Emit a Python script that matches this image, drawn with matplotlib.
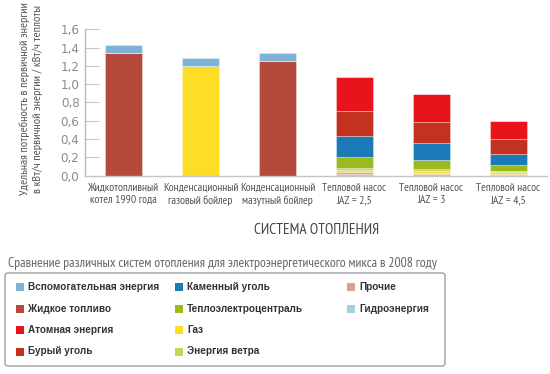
import matplotlib.pyplot as plt
import numpy as np
from matplotlib import font_manager
from matplotlib.patches import FancyBboxPatch, Rectangle

# pick a narrow font that has cyrillic, whichever is installed
installed = {f.name for f in font_manager.fontManager.ttflist}
narrow = "DejaVu Sans"
for cand in ["PT Sans Narrow", "Roboto Condensed", "Fira Sans Condensed",
             "Open Sans Condensed", "Liberation Sans Narrow", "Arial Narrow"]:
    if cand in installed:
        narrow = cand
        break
plt.rcParams["font.family"] = [narrow, "DejaVu Sans"]

categories = [
    "Жидкотопливный\nкотел 1990 года",
    "Конденсационный\nгазовый бойлер",
    "Конденсационный\nмазутный бойлер",
    "Тепловой насос\nJAZ = 2,5",
    "Тепловой насос\nJAZ = 3",
    "Тепловой насос\nJAZ = 4,5",
]

# stack order, bottom to top
series_names = [
    "Жидкое топливо",
    "Гидроэнергия",
    "Прочие",
    "Газ",
    "Энергия ветра",
    "Теплоэлектроцентраль",
    "Каменный уголь",
    "Бурый уголь",
    "Атомная энергия",
    "Вспомогательная энергия",
]
oil = [1.34, 0.0, 1.25, 0.0, 0.0, 0.0]
hydro = [0.0, 0.0, 0.0, 0.02, 0.015, 0.01]
other = [0.0, 0.0, 0.0, 0.015, 0.015, 0.01]
gas = [0.0, 1.20, 0.0, 0.025, 0.02, 0.015]
wind = [0.0, 0.0, 0.0, 0.02, 0.02, 0.015]
chp = [0.0, 0.0, 0.0, 0.128, 0.102, 0.063]
hard_coal = [0.0, 0.0, 0.0, 0.229, 0.188, 0.127]
brown_coal = [0.0, 0.0, 0.0, 0.273, 0.227, 0.158]
nuclear = [0.0, 0.0, 0.0, 0.365, 0.306, 0.200]
aux = [0.09, 0.085, 0.09, 0.0, 0.0, 0.0]
series_values = [oil, hydro, other, gas, wind, chp, hard_coal, brown_coal, nuclear, aux]

colors = {
    "Вспомогательная энергия": "#7fb3d6",
    "Жидкое топливо": "#b44a3b",
    "Атомная энергия": "#e8141b",
    "Бурый уголь": "#c2321f",
    "Каменный уголь": "#1b7bb8",
    "Теплоэлектроцентраль": "#9cb91d",
    "Газ": "#fedd27",
    "Энергия ветра": "#c9d45d",
    "Прочие": "#d9a191",
    "Гидроэнергия": "#a5cfe2",
}

legend_cols = [
    ["Вспомогательная энергия", "Жидкое топливо", "Атомная энергия", "Бурый уголь"],
    ["Каменный уголь", "Теплоэлектроцентраль", "Газ", "Энергия ветра"],
    ["Прочие", "Гидроэнергия"],
]

W, H = 550, 374
fig = plt.figure(figsize=(5.5, 3.74), dpi=100)
ax = fig.add_axes([85 / W, 1 - 175.7 / H, 462 / W, 146.4 / H])

x = np.arange(len(categories))
bottom = np.zeros(len(categories))
for name, vals in zip(series_names, series_values):
    vals = np.array(vals)
    ax.bar(x, vals, bottom=bottom, width=0.48, color=colors[name],
           edgecolor=(1, 1, 1, 0.45), linewidth=0.5)
    bottom += vals

ax.set_xlim(-0.5, 5.5)
ax.set_ylim(0, 1.6)
yt = np.arange(0, 1.61, 0.2)
ax.set_yticks(yt, [f"{v:.1f}".replace(".", ",") for v in yt],
              family=["DejaVu Sans"], fontsize=8.6, color="#8a8a8a")
ax.set_xticks(x, categories, fontsize=8.4, color="#555555", linespacing=1.3)
ax.tick_params(axis="y", direction="in", length=10, width=0.8, color="#c8c8c8", pad=4)
ax.tick_params(axis="x", length=0, pad=5)
for s in ["top", "right"]:
    ax.spines[s].set_visible(False)
ax.spines["left"].set_color("#bbbbbb")
ax.spines["bottom"].set_color("#c4c4c4")
ax.spines["left"].set_linewidth(1.0)
ax.spines["bottom"].set_linewidth(1.0)

fig.text(31 / W, 1 - 99 / H,
         "Удельная потребность в первичной энергии\nв кВт/ч первичной энергии / кВт/ч теплоты",
         rotation=90, ha="center", va="center", multialignment="center",
         fontsize=8.8, color="#555555", linespacing=1.25)

fig.text(317 / W, 1 - 230 / H, "СИСТЕМА ОТОПЛЕНИЯ", ha="center", va="center",
         fontsize=11, color="#444444")

fig.text(8 / W, 1 - 263 / H,
         "Сравнение различных систем отопления для электроэнергетического микса в 2008 году",
         ha="left", va="center", fontsize=9.9, color="#666666")

box = FancyBboxPatch((5 / W, 1 - 366 / H), 440 / W, 93 / H,
                     boxstyle="round,pad=0,rounding_size=0.006",
                     transform=fig.transFigure, facecolor="white",
                     edgecolor="#a0a0a0", linewidth=1.0)
fig.patches.append(box)

col_x = [16, 175, 347]
row_y = [287, 308.5, 330, 351.5]
for ci, col in enumerate(col_x):
    for ri, name in enumerate(legend_cols[ci]):
        fig.patches.append(Rectangle((col / W, 1 - (row_y[ri] + 4) / H), 8 / W, 8 / H,
                                     transform=fig.transFigure,
                                     facecolor=colors[name], edgecolor="none"))
        fig.text((col + 12) / W, 1 - row_y[ri] / H, name, ha="left", va="center",
                 fontsize=7.2, color="#333333", family=["Liberation Sans", "DejaVu Sans"],
                 fontweight="bold")

fig.savefig("out.png", dpi=100, facecolor="white")
